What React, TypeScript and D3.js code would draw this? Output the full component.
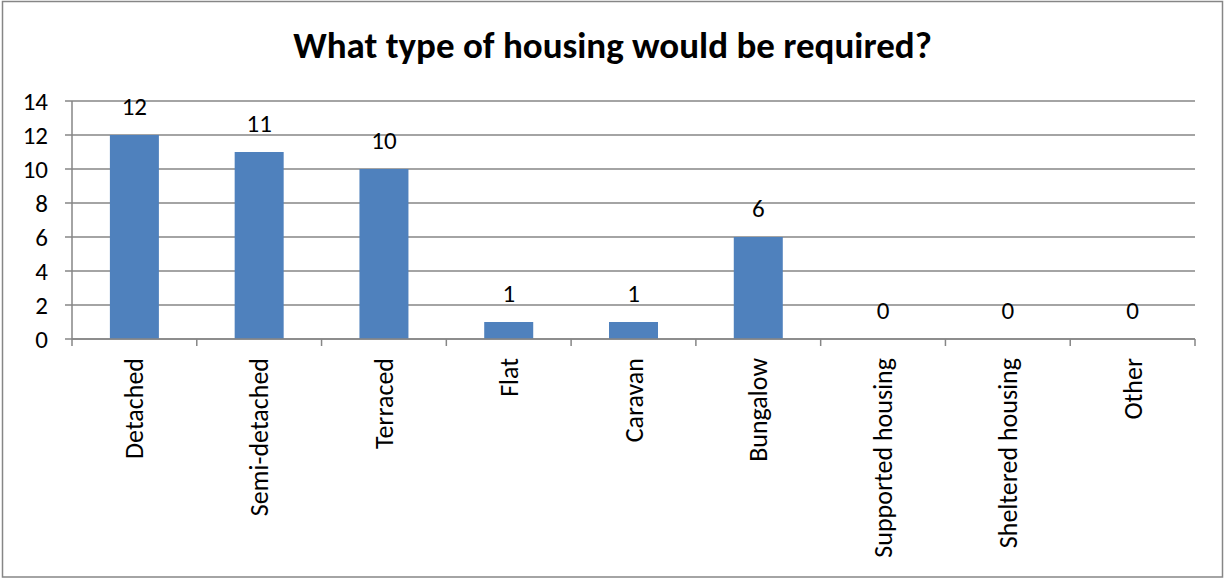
import React, { useEffect, useRef } from "react";
import * as d3 from "d3";

const categories = [
  "Detached",
  "Semi-detached",
  "Terraced",
  "Flat",
  "Caravan",
  "Bungalow",
  "Supported housing",
  "Sheltered housing",
  "Other",
];
const values = [12, 11, 10, 1, 1, 6, 0, 0, 0];
const yTicks = [0, 2, 4, 6, 8, 10, 12, 14];
const title = "What type of housing would be required?";

const W = 1225;
const H = 579;
const FONT = "Calibri, Carlito, Lato, sans-serif";

export default function App() {
  const ref = useRef<SVGSVGElement | null>(null);

  useEffect(() => {
    const svg = d3.select(ref.current);
    svg.selectAll("*").remove();

    const left = 72, right = 1195, top = 101, bottom = 339;
    const x = d3.scaleBand<string>().domain(categories).range([left, right]).paddingInner(0).paddingOuter(0);
    const y = d3.scaleLinear().domain([0, 14]).range([bottom, top]);
    const gray = "#868686";

    svg.append("rect").attr("x", 0).attr("y", 0).attr("width", W).attr("height", H).attr("fill", "#fff");
    svg.append("rect")
      .attr("x", 2.5).attr("y", 1.5).attr("width", 1220).attr("height", 575.5)
      .attr("fill", "none").attr("stroke", gray).attr("stroke-width", 1.5);

    svg.append("text")
      .attr("x", 612.5).attr("y", 58)
      .attr("text-anchor", "middle")
      .attr("font-family", FONT).attr("font-weight", "bold").attr("font-size", 37)
      .attr("fill", "#000")
      .text(title);

    // gridlines
    svg.append("g").selectAll("line").data(yTicks).join("line")
      .attr("x1", left).attr("x2", right)
      .attr("y1", (d) => y(d)).attr("y2", (d) => y(d))
      .attr("stroke", gray).attr("stroke-width", 1.5);

    // y axis
    svg.append("line").attr("x1", left).attr("x2", left).attr("y1", top).attr("y2", bottom)
      .attr("stroke", gray).attr("stroke-width", 1.5);
    svg.append("g").selectAll("line").data(yTicks).join("line")
      .attr("x1", left - 7).attr("x2", left)
      .attr("y1", (d) => y(d)).attr("y2", (d) => y(d))
      .attr("stroke", gray).attr("stroke-width", 1.5);
    svg.append("g").selectAll("text").data(yTicks).join("text")
      .attr("x", 48).attr("y", (d) => y(d)).attr("dy", "0.35em")
      .attr("text-anchor", "end")
      .attr("font-family", FONT).attr("font-size", 25)
      .attr("fill", "#000")
      .text((d) => String(d));

    // bars
    const bw = 49;
    svg.append("g").selectAll("rect").data(categories).join("rect")
      .attr("x", (d) => (x(d) as number) + x.bandwidth() / 2 - bw / 2)
      .attr("y", (d, i) => y(values[i]))
      .attr("width", bw)
      .attr("height", (d, i) => bottom - y(values[i]))
      .attr("fill", "#4F81BD");

    // x axis
    svg.append("line").attr("x1", left).attr("x2", right).attr("y1", bottom).attr("y2", bottom)
      .attr("stroke", gray).attr("stroke-width", 1.5);
    const bounds = categories.map((c) => x(c) as number).concat([right]);
    svg.append("g").selectAll("line").data(bounds).join("line")
      .attr("x1", (d) => d).attr("x2", (d) => d)
      .attr("y1", bottom).attr("y2", bottom + 7)
      .attr("stroke", gray).attr("stroke-width", 1.5);

    // value labels
    svg.append("g").selectAll("text").data(categories).join("text")
      .attr("x", (d) => (x(d) as number) + x.bandwidth() / 2)
      .attr("y", (d, i) => y(values[i]) - 20)
      .attr("text-anchor", "middle")
      .attr("font-family", FONT).attr("font-size", 25)
      .attr("fill", "#000")
      .text((d, i) => String(values[i]));

    // category labels
    svg.append("g").selectAll("text").data(categories).join("text")
      .attr("transform", (d) => `translate(${(x(d) as number) + x.bandwidth() / 2},358) rotate(-90)`)
      .attr("dy", "0.35em")
      .attr("text-anchor", "end")
      .attr("font-family", FONT).attr("font-size", 26)
      .attr("fill", "#000")
      .text((d) => d);
  }, []);

  return (
    <div style={{ position: "absolute", left: 0, top: 0 }}>
      <svg ref={ref} width={W} height={H} />
    </div>
  );
}
